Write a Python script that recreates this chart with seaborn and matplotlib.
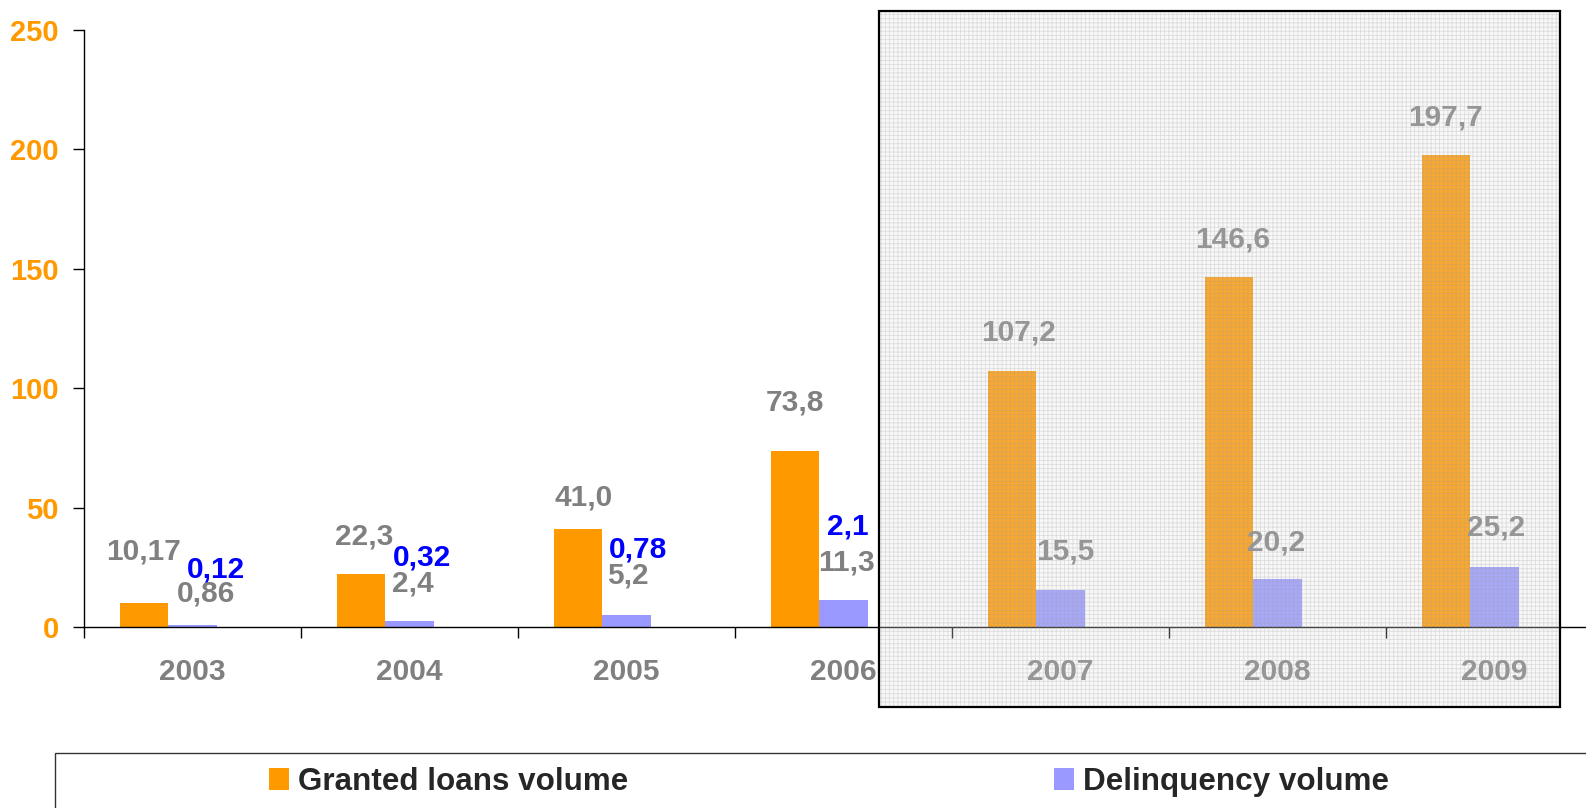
import matplotlib
matplotlib.use("Agg")
import numpy as np
import pandas as pd
import seaborn as sns
import matplotlib.pyplot as plt
from matplotlib.patches import Rectangle, Patch

# ---------------- data ----------------
years = ["2003", "2004", "2005", "2006", "2007", "2008", "2009"]
granted_loans = [10.17, 22.3, 41.0, 73.8, 107.2, 146.6, 197.7]
delinquency = [0.86, 2.4, 5.2, 11.3, 15.5, 20.2, 25.2]
blue_years = ["2003", "2004", "2005", "2006"]
blue_values = [0.12, 0.32, 0.78, 2.1]
y_ticks = [0, 50, 100, 150, 200, 250]
series_names = ["Granted loans volume", "Delinquency volume", "hidden"]

# ---------------- layout / style ----------------
W, H = 1586, 808
ORANGE = "#FF9900"
PURPLE = "#9999FF"
GREY = "#808080"
BLUE = "#0000FF"
granted_off = [(0, 51), (3, 37), (6, 32), (0, 48), (7, 39), (4, 37), (-1, 37)]
delinq_off = [(14, 31), (3, 38), (1, 39), (3, 38), (5, 38), (-1, 36), (2, 39)]
blue_off = [(-25, 57), (-36, 69), (-37, 76), (-44, 95)]

rows = []
for y, v in zip(years, granted_loans):
    rows.append((y, series_names[0], v))
for y, v in zip(years, delinquency):
    rows.append((y, series_names[1], v))
for y, v in zip(blue_years, blue_values):
    rows.append((y, series_names[2], v))
df = pd.DataFrame(rows, columns=["year", "series", "value"])

sns.set_style("white")
plt.rcParams["font.family"] = ["Liberation Sans", "DejaVu Sans"]
plt.rcParams["hatch.linewidth"] = 0.6

fig = plt.figure(figsize=(W / 100, H / 100), dpi=100)
ax = fig.add_axes([84 / W, 181 / H, 1 - 84 / W, 597 / H])

sns.barplot(data=df, x="year", y="value", hue="series", order=years,
            hue_order=series_names,
            palette={series_names[0]: ORANGE, series_names[1]: PURPLE,
                     series_names[2]: "white"},
            width=0.67, saturation=1, linewidth=0, errorbar=None,
            legend=False, ax=ax)

# hide the third (label-only) series
for p in ax.containers[2]:
    p.set_visible(False)

ax.set_ylim(0, 250)
ax.set_xlim(-0.5, -0.5 + (W - 84) / 217.0)
ax.set_xlabel("")
ax.set_ylabel("")
for s in ["top", "right"]:
    ax.spines[s].set_visible(False)
for s in ["left", "bottom"]:
    ax.spines[s].set_color("black")
    ax.spines[s].set_linewidth(1)

ax.set_yticks(y_ticks)
ax.set_yticklabels([str(t) for t in y_ticks], fontweight="bold")
ax.tick_params(axis="y", length=8, width=1, color="black", direction="out",
               labelcolor=ORANGE, labelsize=21, pad=10, left=True)
ax.set_xticks(range(len(years)))
ax.set_xticklabels(years, fontweight="bold")
ax.tick_params(axis="x", which="major", length=0, labelcolor=GREY,
               labelsize=21.5, pad=22)
ax.set_xticks(np.arange(-0.5, len(years) - 1, 1.0), minor=True)
ax.tick_params(axis="x", which="minor", length=8, width=1, color="black",
               direction="out", bottom=True)


def fmt(v):
    return str(v).replace(".", ",")


def label_container(container, values, offsets, color):
    bars = [p for p in container if not np.isnan(p.get_height())]
    for p, v, (dx, dy) in zip(bars, values, offsets):
        ax.annotate(fmt(v), xy=(p.get_x() + p.get_width() / 2, p.get_height()),
                    xytext=(dx, dy), textcoords="offset pixels",
                    ha="center", va="center", fontsize=21.5,
                    fontweight="bold", color=color, annotation_clip=False)


label_container(ax.containers[0], granted_loans, granted_off, GREY)
label_container(ax.containers[1], delinquency, delinq_off, GREY)
label_container(ax.containers[2], blue_values, blue_off, BLUE)

# shaded forecast box
bx0, by0, bx1, by1 = 879, 11, 1560, 707
fig.add_artist(Rectangle((bx0 / W, 1 - by1 / H), (bx1 - bx0) / W,
                         (by1 - by0) / H, transform=fig.transFigure,
                         facecolor=(0.88, 0.88, 0.88, 0.22),
                         edgecolor=(0.62, 0.62, 0.62, 0.3), hatch="++++",
                         linewidth=0, zorder=5))
fig.add_artist(Rectangle((bx0 / W, 1 - by1 / H), (bx1 - bx0) / W,
                         (by1 - by0) / H, transform=fig.transFigure,
                         facecolor="none", edgecolor="black",
                         linewidth=1.6, zorder=6))

# legend frame and legend
fig.add_artist(Rectangle((55 / W, -0.1), 1.2, (H - 753) / H + 0.1,
                         transform=fig.transFigure, facecolor="none",
                         edgecolor="#333333", linewidth=1, zorder=6))
handles = [Patch(facecolor=ORANGE, edgecolor="none"),
           Patch(facecolor=PURPLE, edgecolor="none")]
fig.legend(handles, series_names[:2], loc="center left",
           bbox_to_anchor=(269 / W, 1 - 782 / H), ncol=2, frameon=False,
           borderpad=0, borderaxespad=0, handlelength=0.63,
           handleheight=0.7, handletextpad=0.3, columnspacing=13.55,
           prop=dict(weight="bold", size=22.6))

fig.savefig("out.png", dpi=100)
